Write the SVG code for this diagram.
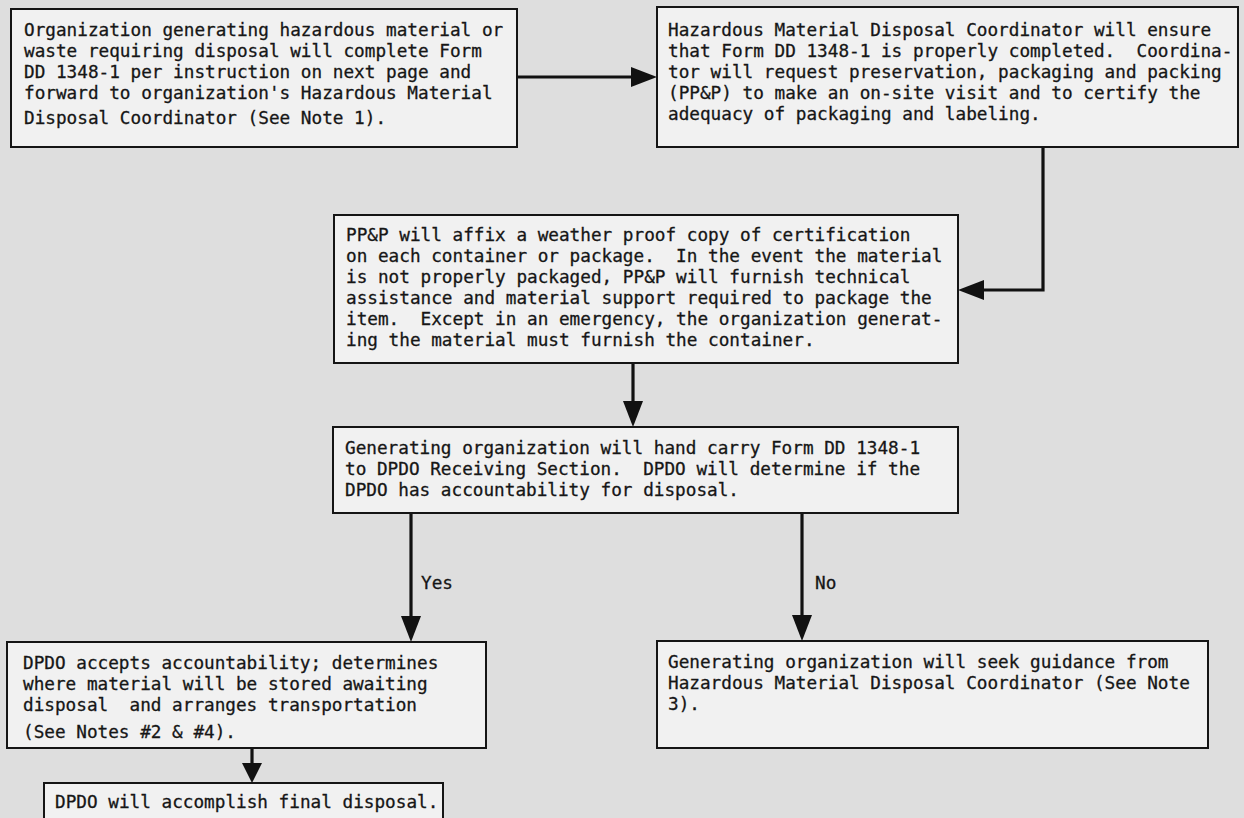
<svg xmlns="http://www.w3.org/2000/svg" width="1244" height="818" viewBox="0 0 1244 818">
<style>
.bg{fill:#dedede}
.box{fill:#f1f1f1;stroke:#151515;stroke-width:2}
.t{font-family:"DejaVu Sans Mono","Liberation Mono",monospace;font-size:17.7px;fill:#161616;stroke:#161616;stroke-width:0.3}
.c{fill:none;stroke:#111;stroke-width:3.2}
</style>
<defs>
<marker id="ah" viewBox="0 0 26 20" markerWidth="26" markerHeight="20" refX="0" refY="10" orient="auto" markerUnits="userSpaceOnUse">
<path d="M0,0 L26,10 L0,20 Z" fill="#111"/>
</marker>
<marker id="ahs" viewBox="0 0 20 20" markerWidth="20" markerHeight="20" refX="0" refY="10" orient="auto" markerUnits="userSpaceOnUse">
<path d="M0,0 L20,10 L0,20 Z" fill="#111"/>
</marker>
</defs>
<rect class="bg" x="0" y="0" width="1244" height="818"/>
<g id="connectors">
<path class="c" d="M517 77 H631" marker-end="url(#ah)"/>
<path class="c" d="M1043 147 V290 H984" marker-end="url(#ah)"/>
<path class="c" d="M633 363 V401" marker-end="url(#ah)"/>
<path class="c" d="M411 513 V616" marker-end="url(#ah)"/>
<path class="c" d="M802 513 V615" marker-end="url(#ah)"/>
<path class="c" d="M252 748 V763" marker-end="url(#ahs)"/>
<text class="t" x="421" y="589">Yes</text>
<text class="t" x="815" y="589">No</text>
</g>
<g id="n1">
<rect class="box" x="11" y="9" width="506" height="138"/>
<text class="t" xml:space="preserve"><tspan x="24" y="36">Organization generating hazardous material or</tspan><tspan x="24" y="57">waste requiring disposal will complete Form</tspan><tspan x="24" y="78">DD 1348-1 per instruction on next page and</tspan><tspan x="24" y="99">forward to organization's Hazardous Material</tspan><tspan x="24" y="124">Disposal Coordinator (See Note 1).</tspan></text>
</g>
<g id="n2">
<rect class="box" x="657" y="7" width="581" height="140"/>
<text class="t" xml:space="preserve"><tspan x="668" y="36">Hazardous Material Disposal Coordinator will ensure</tspan><tspan x="668" y="57">that Form DD 1348-1 is properly completed.  Coordina-</tspan><tspan x="668" y="78">tor will request preservation, packaging and packing</tspan><tspan x="668" y="99">(PP&amp;P) to make an on-site visit and to certify the</tspan><tspan x="668" y="120">adequacy of packaging and labeling.</tspan></text>
</g>
<g id="n3">
<rect class="box" x="334" y="215" width="624" height="148"/>
<text class="t" xml:space="preserve"><tspan x="346" y="241">PP&amp;P will affix a weather proof copy of certification</tspan><tspan x="346" y="262">on each container or package.  In the event the material</tspan><tspan x="346" y="283">is not properly packaged, PP&amp;P will furnish technical</tspan><tspan x="346" y="304">assistance and material support required to package the</tspan><tspan x="346" y="325">item.  Except in an emergency, the organization generat-</tspan><tspan x="346" y="346">ing the material must furnish the container.</tspan></text>
</g>
<g id="n4">
<rect class="box" x="333" y="427" width="625" height="86"/>
<text class="t" xml:space="preserve"><tspan x="345" y="454">Generating organization will hand carry Form DD 1348-1</tspan><tspan x="345" y="475">to DPDO Receiving Section.  DPDO will determine if the</tspan><tspan x="345" y="496">DPDO has accountability for disposal.</tspan></text>
</g>
<g id="n5">
<rect class="box" x="7" y="642" width="479" height="106"/>
<text class="t" xml:space="preserve"><tspan x="23" y="669">DPDO accepts accountability; determines</tspan><tspan x="23" y="690">where material will be stored awaiting</tspan><tspan x="23" y="711">disposal  and arranges transportation</tspan><tspan x="23" y="738">(See Notes #2 &amp; #4).</tspan></text>
</g>
<g id="n6">
<rect class="box" x="657" y="641" width="551" height="107"/>
<text class="t" xml:space="preserve"><tspan x="668" y="668">Generating organization will seek guidance from</tspan><tspan x="668" y="689">Hazardous Material Disposal Coordinator (See Note</tspan><tspan x="668" y="710">3).</tspan></text>
</g>
<g id="n7">
<rect class="box" x="44" y="783" width="399" height="45"/>
<text class="t" xml:space="preserve"><tspan x="55" y="808">DPDO will accomplish final disposal.</tspan></text>
</g>
</svg>
